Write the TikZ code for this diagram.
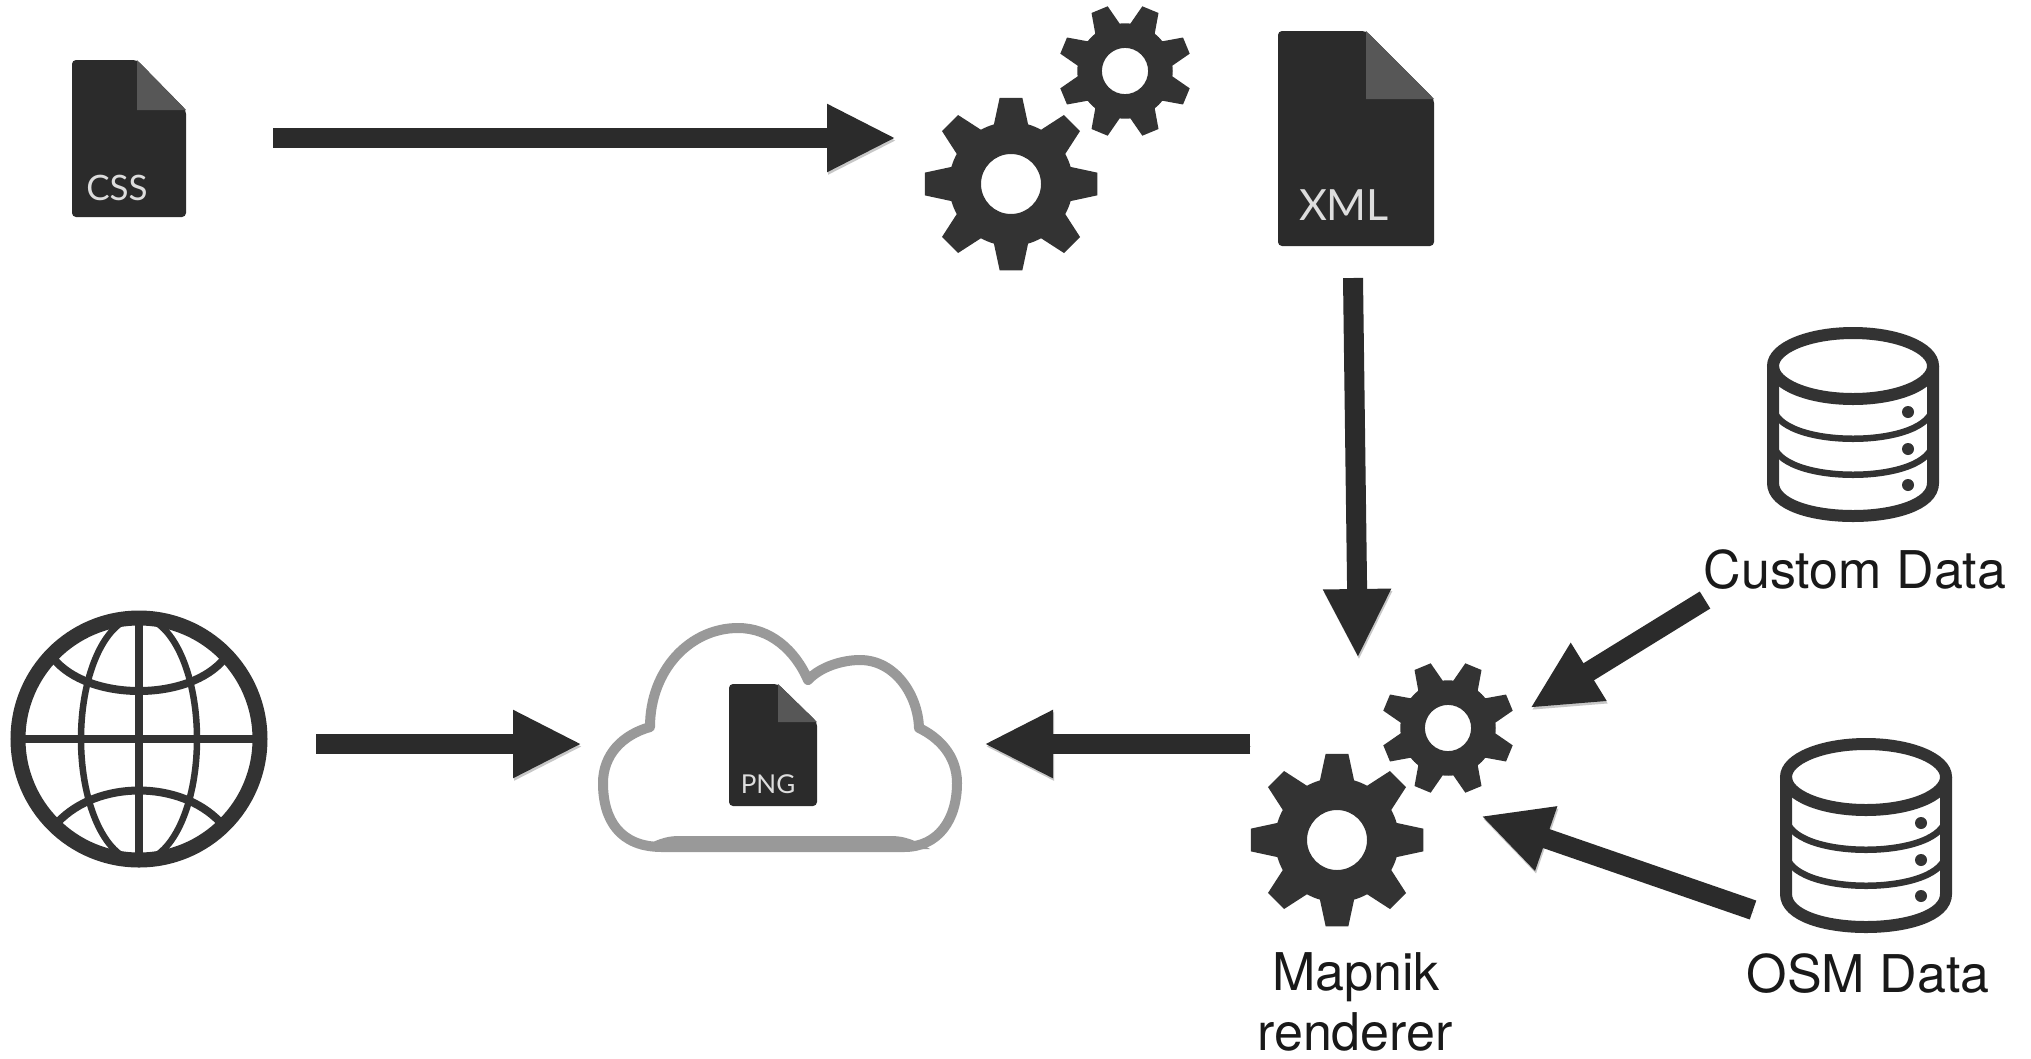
\documentclass[tikz,border=0pt]{standalone}
\usepackage{fontspec}
\setmainfont{TeX Gyre Heros}
\newfontfamily\iconfont{Lato}
\usetikzlibrary{arrows.meta}
\definecolor{ink}{HTML}{2B2B2B}
\definecolor{gearink}{HTML}{333333}
\definecolor{foldgray}{HTML}{575757}
\definecolor{cloudgray}{HTML}{999999}
\definecolor{filetext}{HTML}{DDDDDD}
\tikzset{
  conn/.style={draw=ink,line width=20pt,-{Triangle[length=69pt,width=63pt,fill=ink]},
    preaction={draw=black!22,transform canvas={shift={(1pt,-2.5pt)}}}},
  label/.style={font=\fontsize{52}{62}\selectfont,anchor=base,inner sep=0pt,text=black!90},
  filelabel/.style={inner sep=0pt,text=filetext},
  ico/.style={draw=gearink,fill=none}
}
\newcommand{\gearicon}[4]{%
  \begin{scope}[shift={(#1,#2)},scale=#3,rotate=#4]
    \fill[gearink,even odd rule] (-16:62)
      foreach \a in {0,45,...,315} { -- (\a-16:62) -- (\a-7.5:87) -- (\a+7.5:87) -- (\a+16:62)
        arc[start angle=\a+16,delta angle=13,radius=62] } -- cycle
      (0,0) circle[radius=30];
  \end{scope}}
\newcommand{\fileicon}[6]{%
  \fill[ink,rounded corners=4pt] (#1,#2) -- (#5,#2) -- (#3,#6) -- (#3,#4) -- (#1,#4) -- cycle;
  \fill[foldgray] (#5,#2) -- (#3,#6) -- (#5,#6) -- cycle;}
\newcommand{\dbicon}[2]{%
  \begin{scope}[shift={(#1,#2)}]
    \draw[ico,line width=12pt] (1861,366) ellipse[x radius=80,y radius=33];
    \draw[ico,line width=12pt] (1781,366) -- (1781,483) .. controls (1781,527) and (1941,527) .. (1941,483) -- (1941,366);
    \draw[ico,line width=6.5pt] (1781,405) .. controls (1781,450) and (1941,450) .. (1941,405);
    \draw[ico,line width=6.5pt] (1781,441) .. controls (1781,486) and (1941,486) .. (1941,441);
    \foreach \yy in {412,449,485} { \fill[gearink] (1916,\yy) circle[radius=6]; }
  \end{scope}}
\begin{document}
\begin{tikzpicture}[x=1pt,y=-1pt]
\useasboundingbox (0,0) rectangle (2031,1058);
\fill[white] (0,0) rectangle (2031,1058);

% file icons
\fileicon{72}{60}{186}{217}{137}{110}
\node[filelabel,font=\iconfont\fontsize{35}{38}\selectfont] (csstext) at (117,188) {CSS};
\fileicon{1278}{31}{1434}{246}{1366}{99}
\node[filelabel,font=\iconfont\fontsize{43}{50}\selectfont] (xmltext) at (1344,205) {XML};

% gears
\gearicon{1011}{184}{1}{0}
\gearicon{1125}{71}{0.77}{22.5}
\gearicon{1337}{840}{1}{0}
\gearicon{1448}{728}{0.77}{22.5}

% globe
\begin{scope}
  \clip (139,739) circle[radius=125];
  \draw[gearink,line width=8pt] (53,658) .. controls (88,702) and (190,702) .. (225,658);
  \draw[gearink,line width=8pt] (58,822) .. controls (98,780) and (180,780) .. (220,822);
  \draw[gearink,line width=6.5pt] (139,739) ellipse[x radius=58,y radius=122];
\end{scope}
\draw[gearink,line width=8pt] (13,739) -- (265,739);
\draw[gearink,line width=8pt] (139,615) -- (139,863);
\draw[gearink,line width=15pt] (139,739) circle[radius=121];

% cloud
\draw[cloudgray,line width=10pt,line join=round] (662,847)
  .. controls (620,847) and (603,820) .. (603,783)
  .. controls (603,755) and (622,735) .. (650,727)
  .. controls (650,670) and (690,628) .. (738,628)
  .. controls (770,628) and (795,650) .. (808,680)
  .. controls (820,667) and (842,660) .. (860,660)
  .. controls (895,660) and (918,695) .. (919,728)
  .. controls (938,737) and (957,755) .. (957,783)
  .. controls (957,820) and (938,847) .. (904,847) -- cycle;
\fill[cloudgray] (640,849) .. controls (660,837) and (670,836) .. (680,836)
  -- (890,836) .. controls (900,836) and (910,837) .. (930,849) -- cycle;
\fileicon{729}{684}{817}{806}{778}{722}
\node[filelabel,font=\iconfont\fontsize{26}{30}\selectfont] (pngtext) at (768,784) {PNG};

% databases
\dbicon{-8}{0}
\dbicon{5}{411}

% labels
\node[label] (custom) at (1855,588) {Custom Data};
\node[label] (osm) at (1868,992) {OSM Data};
\node[label] (mapnik) at (1356,990) {Mapnik};
\node[label] (renderer) at (1355,1050) {renderer};

% connector ends
\coordinate (cssout) at (273,138);
\coordinate (gearsin) at (896,138);
\coordinate (xmlout) at (1353,278);
\coordinate (mapnikin) at (1358,658);
\coordinate (globeout) at (316,744);
\coordinate (cloudin) at (582,744);
\coordinate (mapnikout) at (1250,744);
\coordinate (cloudout) at (984,744);
\coordinate (customout) at (1705,600);
\coordinate (mapnikc) at (1530,708);
\coordinate (osmout) at (1753,910);
\coordinate (mapnikd) at (1481,816);

\draw[conn] (cssout) -- (gearsin);
\draw[conn] (xmlout) -- (mapnikin);
\draw[conn] (globeout) -- (cloudin);
\draw[conn] (mapnikout) -- (cloudout);
\draw[conn] (customout) -- (mapnikc);
\draw[conn] (osmout) -- (mapnikd);
\end{tikzpicture}
\end{document}
